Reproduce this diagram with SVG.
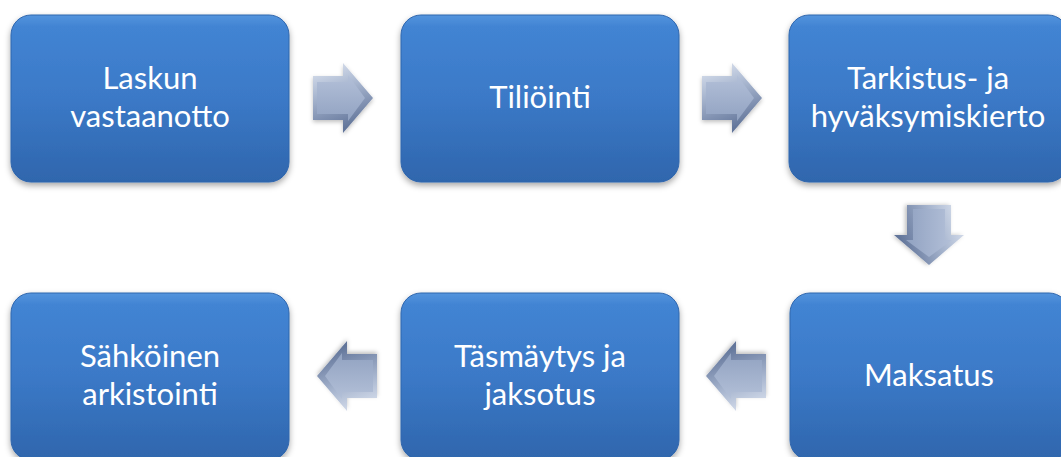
<svg xmlns="http://www.w3.org/2000/svg" xmlns:xlink="http://www.w3.org/1999/xlink" width="1061" height="457" viewBox="0 0 1061 457">
  <style>
    .box { fill: url(#boxFill); stroke: #2f66ad; stroke-width: 1; filter: url(#shadow); }
    .label { font-family: "Lato", "Liberation Sans", sans-serif; font-size: 31px; fill: #ffffff; text-anchor: middle; }
  </style>
  <defs>
    <linearGradient id="boxFill" x1="0" y1="0" x2="0" y2="1">
      <stop offset="0" stop-color="#5394dd"/>
      <stop offset="0.07" stop-color="#4284d3"/>
      <stop offset="0.5" stop-color="#3b79c7"/>
      <stop offset="1" stop-color="#2f66ad"/>
    </linearGradient>
    <linearGradient id="arrowOuter" x1="0" y1="0" x2="0.3" y2="1">
      <stop offset="0" stop-color="#e2e8f3"/>
      <stop offset="0.45" stop-color="#a9b7d0"/>
      <stop offset="1" stop-color="#62759a"/>
    </linearGradient>
    <linearGradient id="arrowInner" x1="0" y1="0" x2="0" y2="1">
      <stop offset="0" stop-color="#b3c0d8"/>
      <stop offset="1" stop-color="#91a2c1"/>
    </linearGradient>
    <filter id="shadow" x="-10%" y="-10%" width="120%" height="130%">
      <feDropShadow dx="0" dy="3" stdDeviation="3" flood-color="#000000" flood-opacity="0.35"/>
    </filter>
    <filter id="arrowShadow" x="-30%" y="-30%" width="160%" height="160%">
      <feDropShadow dx="0" dy="2" stdDeviation="2" flood-color="#000000" flood-opacity="0.25"/>
    </filter>
    <!-- bevelled block arrow pointing right, centred on the origin -->
    <g id="arrow" filter="url(#arrowShadow)">
      <path d="M-30,-22 H0 V-35 L30,0 L0,35 V22 H-30 Z" fill="url(#arrowOuter)"/>
      <path d="M-26,-16 H5 V-23 L22,0 L5,23 V16 H-26 Z" fill="url(#arrowInner)"/>
    </g>
  </defs>

  <rect width="1061" height="457" fill="#ffffff"/>

  <g id="connectors">
    <use xlink:href="#arrow" transform="translate(343,98)"/>
    <use xlink:href="#arrow" transform="translate(732,98)"/>
    <use xlink:href="#arrow" transform="translate(929,235) rotate(90)"/>
    <use xlink:href="#arrow" transform="translate(736,376) rotate(180)"/>
    <use xlink:href="#arrow" transform="translate(347,376) rotate(180)"/>
  </g>

  <g id="node-laskun-vastaanotto">
    <rect class="box" x="11" y="15" width="278" height="167" rx="20"/>
    <text class="label" x="150" y="89">Laskun</text>
    <text class="label" x="150" y="127">vastaanotto</text>
  </g>

  <g id="node-tiliointi">
    <rect class="box" x="401" y="15" width="278" height="167" rx="20"/>
    <text class="label" x="540" y="108">Tiliöinti</text>
  </g>

  <g id="node-tarkistus">
    <rect class="box" x="789" y="15" width="279" height="167" rx="20"/>
    <text class="label" x="928" y="89">Tarkistus- ja</text>
    <text class="label" x="928" y="127">hyväksymiskierto</text>
  </g>

  <g id="node-maksatus">
    <rect class="box" x="790" y="293" width="279" height="167" rx="20"/>
    <text class="label" x="929" y="386">Maksatus</text>
  </g>

  <g id="node-tasmaytys">
    <rect class="box" x="401" y="293" width="278" height="167" rx="20"/>
    <text class="label" x="540" y="367">Täsmäytys ja</text>
    <text class="label" x="540" y="405">jaksotus</text>
  </g>

  <g id="node-arkistointi">
    <rect class="box" x="11" y="293" width="278" height="167" rx="20"/>
    <text class="label" x="150" y="367">Sähköinen</text>
    <text class="label" x="150" y="405">arkistointi</text>
  </g>
</svg>
